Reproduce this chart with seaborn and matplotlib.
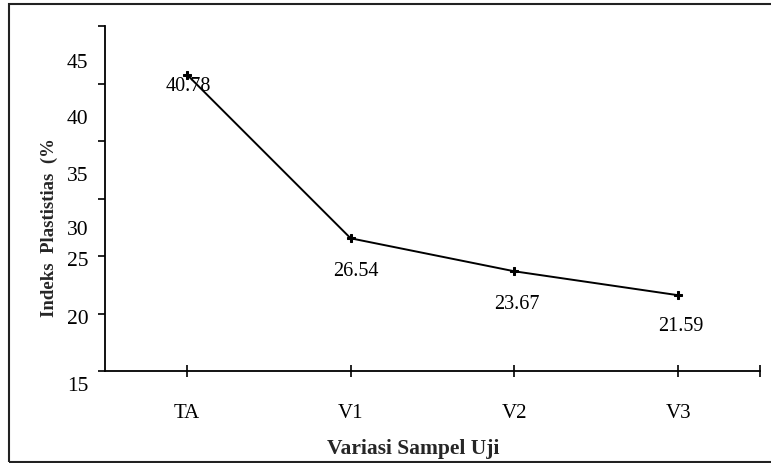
import matplotlib
matplotlib.use("Agg")
import matplotlib.pyplot as plt
import seaborn as sns
import pandas as pd
from matplotlib.patches import Rectangle

# Data
categories = ["TA", "V1", "V2", "V3"]
values = [40.78, 26.54, 23.67, 21.59]
value_labels = ["40.78", "26.54", "23.67", "21.59"]
y_ticks = [15, 20, 25, 30, 35, 40, 45]
y_tick_labels = ["15", "20", "25", "30", "35", "40", "45"]

# Styling/positions (not data)
y_label_pos = [13.7, 19.6, 24.6, 27.3, 32.0, 37.0, 41.8]
label_offsets = [(1, -8), (4, -23), (2, -23), (2, -22)]

sns.set_theme(style="white")
plt.rcParams["font.family"] = ["Liberation Serif", "DejaVu Serif"]

df = pd.DataFrame({"cat": categories, "val": values})

fig = plt.figure(figsize=(7.71, 4.64), dpi=100)
ax = fig.add_axes([105 / 771, 92 / 464, 655 / 771, 345 / 464])

sns.lineplot(data=df, x="cat", y="val", ax=ax, color="black", linewidth=1.4,
             marker="P", markersize=5.5, markeredgecolor="black",
             markerfacecolor="black", sort=False)

ax.set_xlim(-0.5, 3.5)
ax.set_ylim(15, 45)

for s in ["top", "right"]:
    ax.spines[s].set_visible(False)
for s in ["left", "bottom"]:
    ax.spines[s].set_color("black")
    ax.spines[s].set_linewidth(1.3)

# y ticks (marks only), labels placed as in reference
ax.set_yticks(y_ticks)
ax.set_yticklabels([])
ax.tick_params(axis="y", direction="out", length=5, width=1.2, color="black", left=True)
for lab, pos in zip(y_tick_labels, y_label_pos):
    ax.annotate(lab, xy=(0, pos), xycoords=ax.get_yaxis_transform(),
                xytext=(-12, 0), textcoords="offset points",
                ha="right", va="center", fontsize=15.5, color="black",
                annotation_clip=False)

# x ticks
ax.set_xticks(range(len(categories)))
ax.set_xticklabels(categories, fontsize=15, color="black")
ax.set_xticks([3.5], minor=True)
ax.tick_params(axis="x", which="both", direction="inout", length=8, width=1.2,
               color="black", bottom=True, pad=19)

# data labels
for i, (v, t) in enumerate(zip(values, value_labels)):
    dx, dy = label_offsets[i]
    ax.annotate(t, xy=(i, v), xytext=(dx, dy), textcoords="offset points",
                ha="center", va="center", fontsize=14.5, color="black")

ax.set_xlabel("Variasi Sampel Uji", fontsize=15.5, fontweight="bold", va="center")
ax.xaxis.set_label_coords(0.47, -0.222)
ax.set_ylabel("Indeks  Plastistias  (%", fontsize=13.5, fontweight="bold", va="center")
ax.yaxis.set_label_coords(-0.0855, 0.42)

# outer border
fig.patches.append(Rectangle((9 / 771, 1.5 / 464), 1.2, (459 - 1.5) / 464 + 0.0,
                             transform=fig.transFigure, fill=False,
                             edgecolor="#222222", linewidth=1.5, zorder=0))

fig.savefig("out.png", dpi=100)
